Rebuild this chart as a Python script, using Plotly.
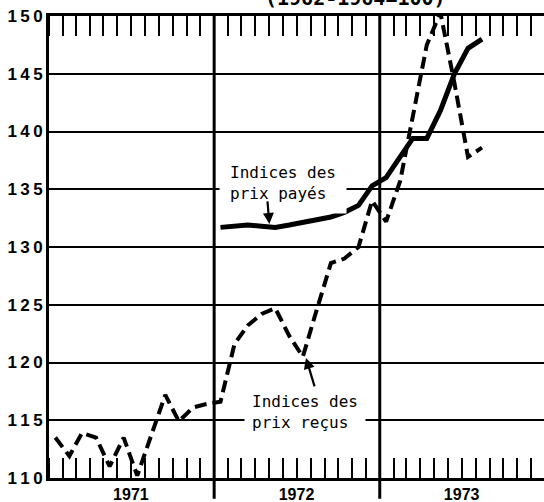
import plotly.graph_objects as go

# ---- data ----
months_recus = [f"{y}-{m:02d}-15" for y in (1971, 1972, 1973) for m in range(1, 13)][:32]
prix_recus = [113.5, 111.9, 113.9, 113.5, 111.0, 113.5, 110.2, 113.6, 117.2, 114.9, 116.1, 116.4,
              116.6, 121.6, 123.2, 124.2, 124.7, 122.3, 120.5, 124.6, 128.6, 129.0, 130.0, 134.0,
              132.2, 135.7, 141.5, 147.5, 150.3, 144.2, 137.8, 138.6]
months_payes = months_recus[12:]
prix_payes = [131.7, 131.8, 131.9, 131.8, 131.7, 131.9, 132.1, 132.3, 132.6, 133.0, 133.6, 135.3,
              136.0, 137.8, 139.4, 139.4, 141.8, 145.0, 147.2, 148.0]
year_ticks = ["1971-07-01", "1972-07-01", "1973-07-01"]
year_labels = ["1971", "1972", "1973"]
year_breaks = ["1972-01-01", "1973-01-01"]
y_ticks = [110, 115, 120, 125, 130, 135, 140, 145, 150]

x_range = ["1971-01-01", "1973-12-30"]

fig = go.Figure()
fig.add_trace(go.Scatter(x=months_recus, y=prix_recus, mode="lines",
                         line=dict(color="black", width=4, dash="12px,6px"),
                         xaxis="x", yaxis="y", hoverinfo="skip"))
fig.add_trace(go.Scatter(x=months_payes, y=prix_payes, mode="lines",
                         line=dict(color="black", width=5),
                         xaxis="x", yaxis="y", hoverinfo="skip"))

for xb in year_breaks:
    fig.add_shape(type="line", xref="x", yref="paper", x0=xb, x1=xb, y0=-0.045, y1=1,
                  line=dict(color="black", width=3), layer="below")

mono = "DejaVu Sans Mono"
fig.add_annotation(x="1972-06-02", y=135.5, xref="x", yref="y", text="Indices des<br>prix payés",
                   showarrow=False, align="left", bgcolor="white", borderpad=10,
                   font=dict(family=mono, size=16, color="black"))
fig.add_annotation(x="1972-07-20", y=115.7, xref="x", yref="y", text="Indices des<br>prix reçus",
                   showarrow=False, align="left", bgcolor="white", borderpad=7,
                   font=dict(family=mono, size=16, color="black"))
# arrows
fig.add_annotation(x="1972-05-02", y=132.0, xref="x", yref="y", text="", showarrow=True,
                   ax=-2, ay=-24, arrowhead=2, arrowsize=1, arrowwidth=2.2, arrowcolor="black")
fig.add_annotation(x="1972-07-22", y=120.4, xref="x", yref="y", text="", showarrow=True,
                   ax=9, ay=30, arrowhead=2, arrowsize=1, arrowwidth=2.2, arrowcolor="black")
# cut-off base note at top right
fig.add_annotation(x=0.806, y=1, xref="paper", yref="paper", yanchor="bottom", yshift=4,
                   text="(1962-1964=100)", showarrow=False,
                   font=dict(family=mono, size=20, color="black", weight="bold"))

fig.update_layout(
    width=544, height=502,
    margin=dict(l=49, r=0, t=16, b=24),
    paper_bgcolor="white", plot_bgcolor="white",
    showlegend=False,
    xaxis=dict(type="date", range=x_range, tickvals=year_ticks, ticktext=year_labels,
               ticks="", showgrid=False, zeroline=False,
               showline=True, linecolor="black", linewidth=3, mirror="ticks",
               tickfont=dict(family="Liberation Sans", size=16, color="black", weight="bold"),
               minor=dict(dtick="M1", tick0="1971-01-01", ticks="inside", ticklen=20,
                          tickwidth=2, tickcolor="black", showgrid=False)),
    xaxis2=dict(type="date", range=x_range, overlaying="x", anchor="y", side="bottom",
                dtick="M3", tick0="1971-01-01", showgrid=True, gridcolor="black", gridwidth=2,
                showticklabels=False, ticks="", showline=False, zeroline=False),
    yaxis=dict(range=[110, 150], tickvals=y_ticks,
               ticktext=["\u2009".join(str(v)) for v in y_ticks],
               showgrid=True, gridcolor="black", gridwidth=2, zeroline=False,
               showline=True, linecolor="black", linewidth=3, ticks="",
               tickfont=dict(family="Liberation Sans", size=17, color="black", weight="bold")),
)

fig.write_html("out.html", config={"displayModeBar": False},
               post_script="document.body.style.margin='0';document.body.style.overflow='hidden';")
